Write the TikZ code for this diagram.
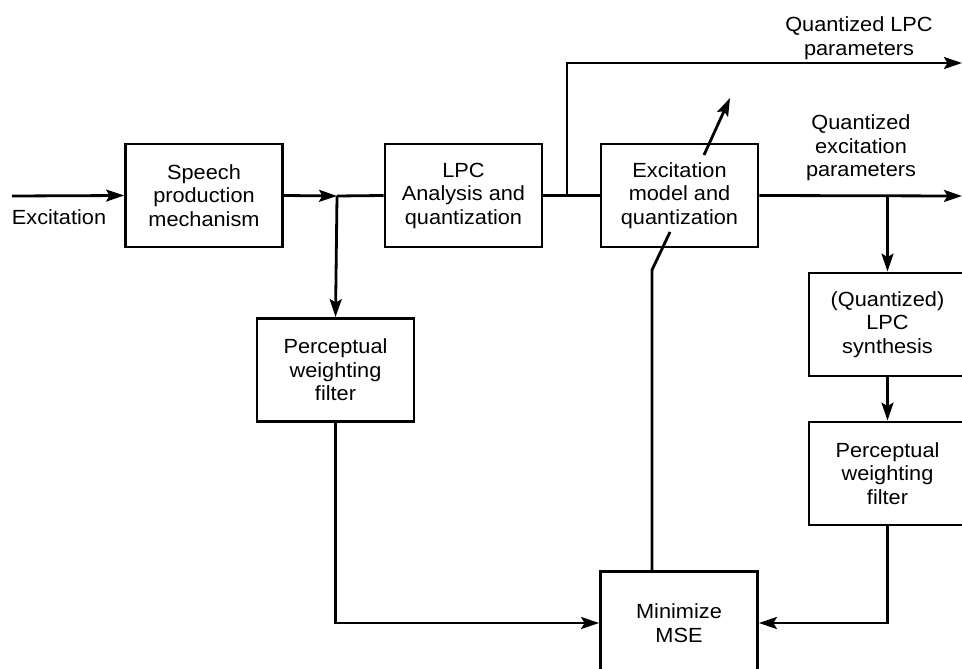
\documentclass[tikz,border=0pt]{standalone}
\usepackage{fontspec}
\setmainfont{Liberation Sans}[FakeStretch=1.06]
\usetikzlibrary{arrows.meta}
\begin{document}
\begin{tikzpicture}[x=1pt,y=-1pt,
  line width=2.8pt,
  font=\fontsize{20.5}{23.5}\selectfont,
  block/.style={draw,minimum width=157pt,minimum height=103pt,align=center,inner sep=0pt},
  lbl/.style={align=center,inner sep=0pt},
  arr/.style={-{Stealth[length=18pt,width=12pt,inset=3.5pt]}}]
\clip (0,0) rectangle (962,669);

% processing blocks
\node[block] (speech) at (204,195.5) {Speech\\production\\mechanism};
\node[block] (lpc)    at (463.5,195.5) {LPC\\Analysis and\\quantization};
\node[block] (exc)    at (679.5,195.5) {Excitation\\model and\\quantization};
\node[block] (pw1)    at (335.5,370) {Perceptual\\weighting\\filter};
\node[block] (syn)    at (887.5,324.5) {(Quantized)\\LPC\\synthesis};
\node[block] (pw2)    at (887.5,473.5) {Perceptual\\weighting\\filter};
\node[block] (mse)    at (679,623) {Minimize\\MSE};

% branch points and free ends
\coordinate (in)   at (12,196);
\coordinate (j1)   at (337,196);
\coordinate (j2)   at (567,196);
\coordinate (j3)   at (887.5,196);
\coordinate (out1) at (962,63);
\coordinate (out2) at (962,196);
\coordinate (k1)   at (652,270);
\coordinate (k2)   at (670,232);
\coordinate (a1)   at (704,155);
\coordinate (a2)   at (730,98);

% labels
\node[lbl] (exclbl) at (59,217) {Excitation};
\node[lbl] (qlpc)   at (859,38) {Quantized LPC\\parameters};
\node[lbl] (qexc)   at (861,148) {Quantized\\excitation\\parameters};

% signal path
\draw[arr] (in) -- (speech.west);
\draw[arr] (speech.east) -- (j1);
\draw (j1) -- (lpc.west);
\draw[arr] (j1) -- (pw1.north);
\draw (lpc.east) -- (exc.west);
\draw[arr] (j2) |- (out1);
\draw[arr] (exc.east) -- (out2);
\draw[arr] (j3) -- (syn.north);
\draw[arr] (syn.south) -- (pw2.north);
\draw[arr] (pw2.south) |- (mse.east);
\draw[arr] (pw1.south) |- (mse.west);
\draw (k2) -- (k1) -- (k1 |- mse.north);
\draw[arr] (a1) -- (a2);
\end{tikzpicture}
\end{document}
